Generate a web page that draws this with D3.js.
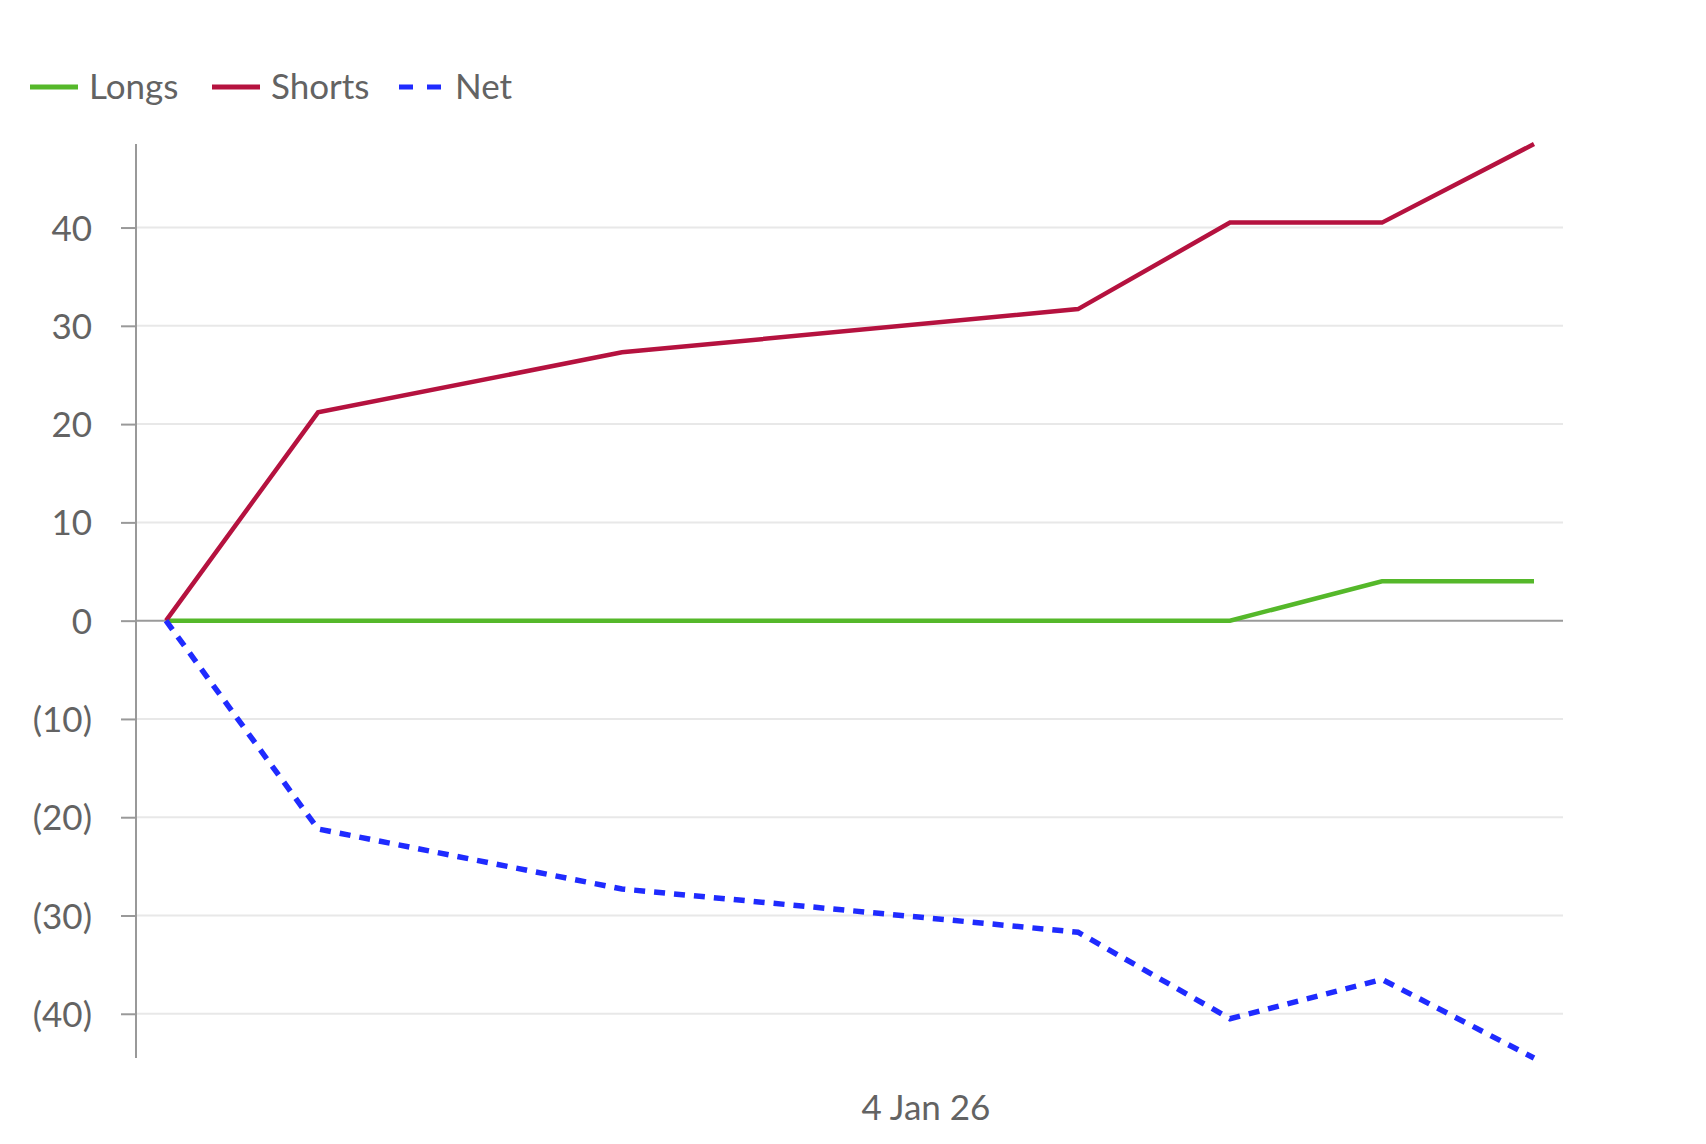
<!DOCTYPE html>
<html>
<head>
<meta charset="utf-8">
<script src="https://cdn.jsdelivr.net/npm/d3@7"></script>
<style>
	body { margin: 0; background: #fff; }
	text { font-family: Lato, "Open Sans", sans-serif; fill: #636363; }
	.grid line { stroke: #e8e8e8; stroke-width: 2; }
	.line { fill: none; stroke-linejoin: miter; }
</style>
</head>
<body>
<div class="chart"></div>
<script>

const dates = ["2025-12-30", "2025-12-31", "2026-01-02", "2026-01-05", "2026-01-06", "2026-01-07", "2026-01-08"];
const longs = [0, 0, 0, 0, 0, 4, 4];
const shorts = [0, 21.2, 27.3, 31.7, 40.5, 40.5, 48.5];
const net = [0, -21.2, -27.3, -31.7, -40.5, -36.5, -44.5];
const yTicks = [-40, -30, -20, -10, 0, 10, 20, 30, 40];
const xLabels = ["2026-01-04"];

const parse = d3.timeParse("%Y-%m-%d");

const series = [
	{ name: "Longs", values: longs, color: "#55b82a", dash: null },
	{ name: "Shorts", values: shorts, color: "#b5123f", dash: null },
	{ name: "Net", values: net, color: "#1f2bff", dash: "11,9" }
];

const width = 1706;
const height = 1144;

const svg = d3.select(".chart")
	.append("svg")
		.attr("width", width)
		.attr("height", height);

const x = d3.scaleTime()
	.domain(d3.extent(dates, parse))
	.range([166, 1534]);

const allValues = longs.concat(shorts, net);
const y = d3.scaleLinear()
	.domain(d3.extent(allValues))
	.range([1058, 144]);

const left = 136;
const right = 1563;

// gridlines
svg.append("g")
		.attr("class", "grid")
	.selectAll("line")
		.data(yTicks).enter()
	.append("line")
		.attr("x1", left)
		.attr("x2", right)
		.attr("y1", (d) => y(d))
		.attr("y2", (d) => y(d))
		.style("stroke", (d) => d === 0 ? "#9a9a9a" : null);

// y axis
const fmt = (d) => d < 0 ? `(${Math.abs(d)})` : `${d}`;
const yAxis = svg.append("g")
	.attr("transform", `translate(${left},0)`)
	.call(d3.axisLeft(y).tickValues(yTicks).tickFormat(fmt).tickSize(15).tickPadding(29));

yAxis.select(".domain")
	.attr("d", `M0,${y.range()[0]}V${y.range()[1]}`)
	.attr("stroke", "#999")
	.attr("stroke-width", 2);
yAxis.selectAll(".tick line")
	.attr("stroke", "#999")
	.attr("stroke-width", 2);
yAxis.selectAll(".tick text")
	.style("font-size", "35px")
	.attr("fill", "#636363")
	.attr("dy", "0.36em");

// x label
svg.append("g")
	.selectAll("text")
		.data(xLabels).enter()
	.append("text")
		.attr("x", (d) => x(parse(d)))
		.attr("y", 1120)
		.attr("text-anchor", "middle")
		.style("font-size", "35px")
		.text((d) => d3.timeFormat("%-d %b %y")(parse(d)));

// lines
const line = d3.line()
	.x((d, i) => x(parse(dates[i])))
	.y((d) => y(d));

svg.append("g")
	.selectAll("path")
		.data(series).enter()
	.append("path")
		.attr("class", "line")
		.attr("d", (d) => line(d.values))
		.attr("stroke", (d) => d.color)
		.attr("stroke-width", (d) => d.dash ? 5.5 : 4.5)
		.attr("stroke-dasharray", (d) => d.dash);

// legend
const legendX = [30, 212, 399];
const legend = svg.append("g")
	.selectAll(".item")
		.data(series).enter()
	.append("g")
		.attr("class", "item")
		.attr("transform", (d, i) => `translate(${legendX[i]},87)`);

legend.append("line")
	.attr("x1", 0)
	.attr("x2", (d) => d.dash ? 42 : 48)
	.attr("stroke", (d) => d.color)
	.attr("stroke-width", 5)
	.attr("stroke-dasharray", (d) => d.dash ? "14,14" : null);

legend.append("text")
	.attr("x", (d) => d.dash ? 56 : 59)
	.attr("dy", "0.34em")
	.style("font-size", "35px")
	.text((d) => d.name);

</script>
</body>
</html>
